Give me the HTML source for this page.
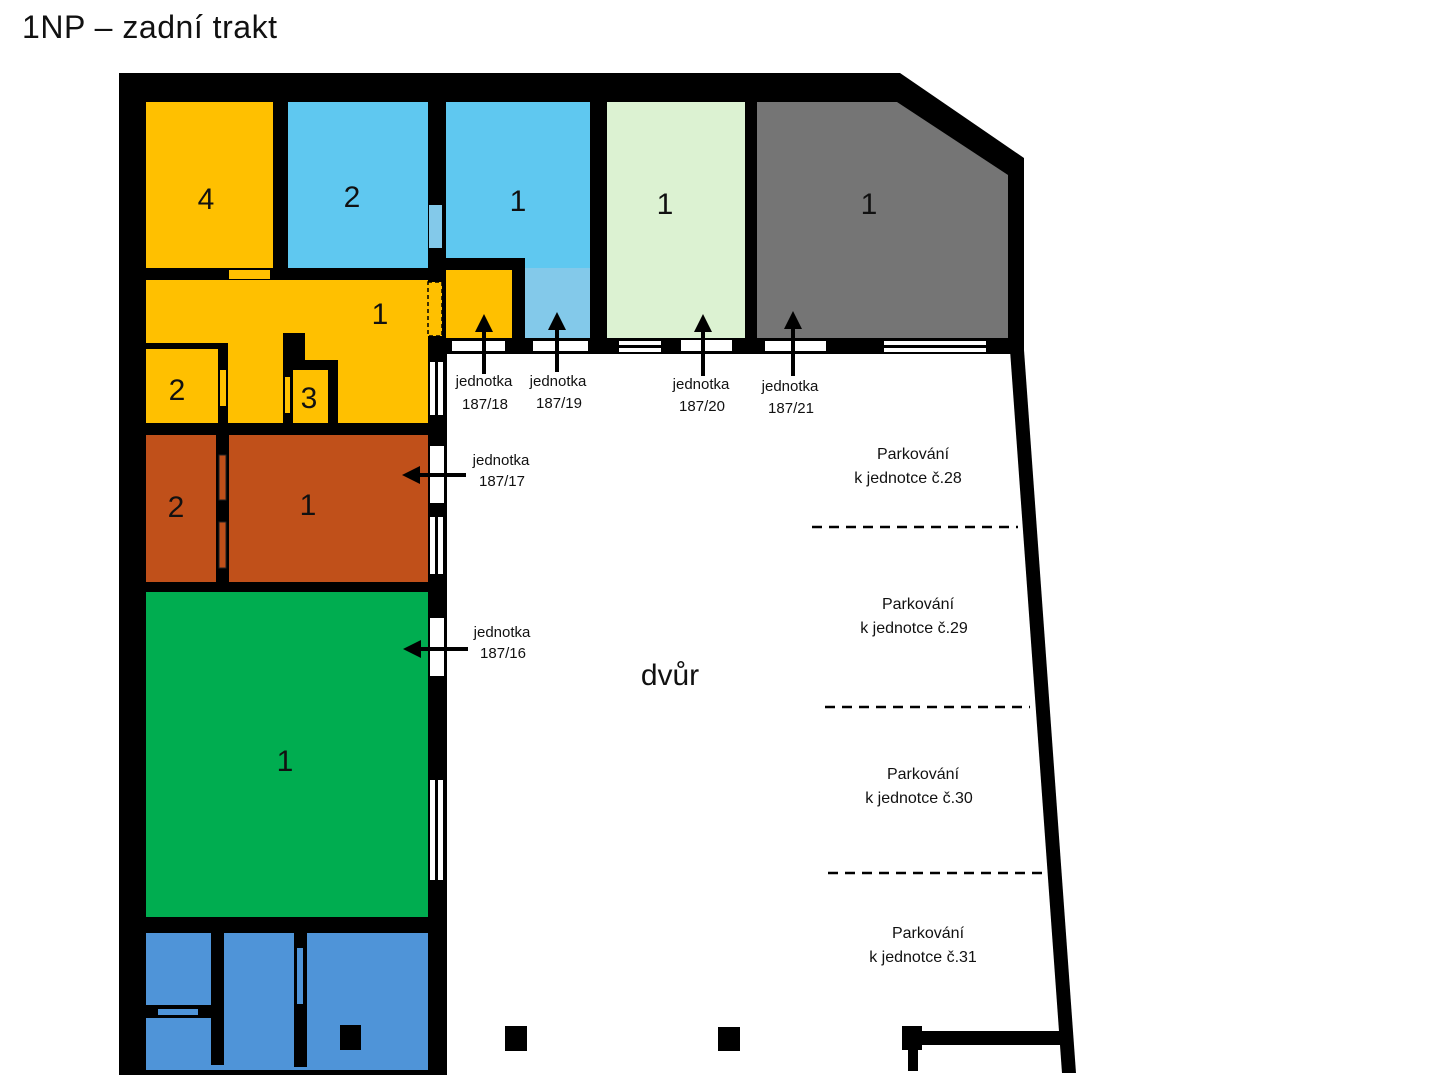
<!DOCTYPE html>
<html><head><meta charset="utf-8"><style>
body{margin:0;background:#fff;width:1440px;height:1080px;overflow:hidden}
svg{display:block}
text{font-family:"Liberation Sans",sans-serif;fill:#111}
.n{font-size:30px;text-anchor:middle}
.s{font-size:15px;text-anchor:middle}
.p{font-size:16px;text-anchor:middle}
</style></head><body>
<svg width="1440" height="1080" viewBox="0 0 1440 1080">
<text x="22" y="38" style="font-size:32px" textLength="255">1NP – zadní trakt</text>
<polygon points="119,73 900,73 1024,158 1024,354 447,354 447,1075 119,1075" fill="#000"/>
<rect x="146" y="102" width="127" height="166" fill="#FFC000"/>
<rect x="288" y="102" width="140" height="166" fill="#5FC8F0"/>
<rect x="446" y="102" width="144" height="156" fill="#5FC8F0"/>
<rect x="525" y="258" width="65" height="80" fill="#83C9EA"/>
<rect x="525" y="258" width="65" height="10" fill="#5FC8F0"/>
<rect x="446" y="270" width="66" height="68" fill="#FFC000"/>
<rect x="429" y="205" width="13" height="43" fill="#83C9EA"/>
<rect x="607" y="102" width="138" height="236" fill="#DCF2D2"/>
<polygon points="757,102 897,102 1008,175 1008,338 757,338" fill="#757575"/>
<rect x="146" y="280" width="282" height="143" fill="#FFC000"/>
<rect x="229" y="270" width="41" height="9" fill="#FFC000"/>
<rect x="428" y="282" width="14" height="54" fill="#FFC000" stroke="#000" stroke-width="1.5" stroke-dasharray="4,3"/>
<rect x="146" y="343" width="82" height="6" fill="#000"/>
<rect x="218" y="343" width="10" height="80" fill="#000"/>
<rect x="220" y="370" width="6" height="36" fill="#FFC000"/>
<polygon points="283,333 305,333 305,360 338,360 338,423 283,423" fill="#000"/>
<rect x="293" y="370" width="35" height="53" fill="#FFC000"/>
<rect x="285" y="377" width="5" height="36" fill="#FFC000"/>
<rect x="146" y="435" width="282" height="147" fill="#C0501A"/>
<rect x="216" y="435" width="13" height="147" fill="#000"/>
<rect x="219" y="455" width="7" height="45" fill="#C0501A" stroke="#222" stroke-width="1"/>
<rect x="219" y="522" width="7" height="46" fill="#C0501A" stroke="#222" stroke-width="1"/>
<rect x="146" y="592" width="282" height="325" fill="#00AD50"/>
<rect x="146" y="933" width="282" height="137" fill="#4F94D8"/>
<rect x="211" y="933" width="13" height="132" fill="#000"/>
<rect x="294" y="933" width="13" height="134" fill="#000"/>
<rect x="297" y="948" width="6" height="56" fill="#4F94D8"/>
<rect x="146" y="1005" width="65" height="13" fill="#000"/>
<rect x="158" y="1009" width="40" height="6" fill="#4F94D8"/>
<rect x="340" y="1025" width="21" height="25" fill="#000"/>
<g fill="#fff">
<rect x="452" y="341" width="53" height="10"/>
<rect x="533" y="341" width="55" height="10"/>
<rect x="619" y="341" width="42" height="4"/><rect x="619" y="348" width="42" height="4"/>
<rect x="681" y="340" width="51" height="11"/>
<rect x="765" y="341" width="61" height="10"/>
<rect x="884" y="341" width="102" height="4"/><rect x="884" y="348" width="102" height="4"/>
<rect x="430" y="362" width="5" height="53"/><rect x="438" y="362" width="5" height="53"/>
<rect x="430" y="446" width="14" height="57"/>
<rect x="430" y="517" width="5" height="57"/><rect x="438" y="517" width="5" height="57"/>
<rect x="430" y="618" width="14" height="58"/>
<rect x="430" y="780" width="5" height="100"/><rect x="438" y="780" width="5" height="100"/>
</g>
<polygon points="1010,350 1024,350 1076,1073 1062,1073" fill="#000"/>
<g fill="#000">
<rect x="505" y="1026" width="22" height="25"/>
<rect x="718" y="1027" width="22" height="24"/>
<rect x="902" y="1026" width="20" height="24"/>
<rect x="908" y="1050" width="10" height="21"/>
<rect x="922" y="1031" width="138" height="14"/>
</g>
<g stroke="#000" stroke-width="2.5" stroke-dasharray="10,7">
<line x1="812" y1="527" x2="1018" y2="527"/>
<line x1="825" y1="707" x2="1030" y2="707"/>
<line x1="828" y1="873" x2="1042" y2="873"/>
</g>
<g stroke="#000" stroke-width="4">
<line x1="484" y1="330" x2="484" y2="374"/>
<line x1="557" y1="330" x2="557" y2="372"/>
<line x1="703" y1="330" x2="703" y2="376"/>
<line x1="793" y1="327" x2="793" y2="376"/>
<line x1="418" y1="475" x2="466" y2="475"/>
<line x1="418" y1="649" x2="468" y2="649"/>
</g>
<g fill="#000">
<polygon points="484,314 475,332 493,332"/>
<polygon points="557,312 548,330 566,330"/>
<polygon points="703,314 694,332 712,332"/>
<polygon points="793,311 784,329 802,329"/>
<polygon points="402,475 420,466 420,484"/>
<polygon points="403,649 421,640 421,658"/>
</g>
<text class="n" x="206" y="209">4</text>
<text class="n" x="352" y="207">2</text>
<text class="n" x="518" y="211">1</text>
<text class="n" x="665" y="214">1</text>
<text class="n" x="869" y="214">1</text>
<text class="n" x="380" y="324">1</text>
<text class="n" x="177" y="400">2</text>
<text class="n" x="309" y="408">3</text>
<text class="n" x="176" y="517">2</text>
<text class="n" x="308" y="515">1</text>
<text class="n" x="285" y="771">1</text>
<text class="n" x="670" y="685">dvůr</text>
<text class="s" x="484" y="386">jednotka</text><text class="s" x="485" y="409">187/18</text>
<text class="s" x="558" y="386">jednotka</text><text class="s" x="559" y="408">187/19</text>
<text class="s" x="701" y="389">jednotka</text><text class="s" x="702" y="411">187/20</text>
<text class="s" x="790" y="391">jednotka</text><text class="s" x="791" y="413">187/21</text>
<text class="s" x="501" y="465">jednotka</text><text class="s" x="502" y="486">187/17</text>
<text class="s" x="502" y="637">jednotka</text><text class="s" x="503" y="658">187/16</text>
<text class="p" x="913" y="459">Parkování</text><text class="p" x="908" y="483">k jednotce č.28</text>
<text class="p" x="918" y="609">Parkování</text><text class="p" x="914" y="633">k jednotce č.29</text>
<text class="p" x="923" y="779">Parkování</text><text class="p" x="919" y="803">k jednotce č.30</text>
<text class="p" x="928" y="938">Parkování</text><text class="p" x="923" y="962">k jednotce č.31</text>
</svg>
</body></html>
